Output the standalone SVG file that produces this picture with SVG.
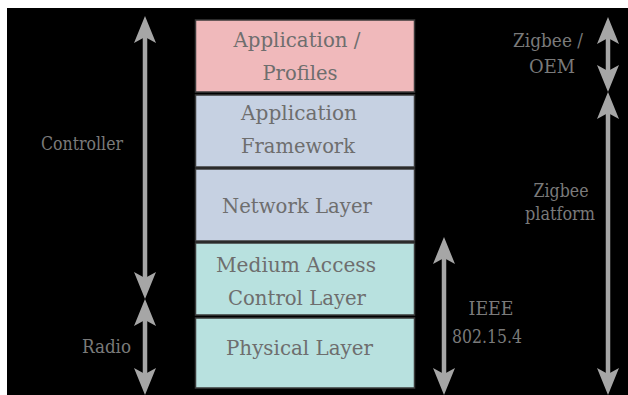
<svg xmlns="http://www.w3.org/2000/svg" width="628" height="395" viewBox="0 0 628 395">
<defs>
<style>
.box{stroke:#3a3a3a;stroke-width:1.5}
.pink{fill:#F0B9BB}
.blue{fill:#C6D1E2}
.teal{fill:#B8E1DF}
.lt{font-family:'DejaVu Serif','Liberation Serif',serif;font-size:21px;fill:#6e6e6e;text-anchor:middle}
.st{font-family:'DejaVu Serif','Liberation Serif',serif;font-size:18px;fill:#7a7a7a;text-anchor:middle}
.arr{stroke:#A6A6A6;stroke-width:4.5;fill:none;marker-start:url(#ah);marker-end:url(#ah)}
</style>
<marker id="ah" markerUnits="userSpaceOnUse" viewBox="-28 -12 30 24" refX="-21" refY="0" markerWidth="30" markerHeight="24" orient="auto-start-reverse">
<path d="M0,0 L-27,-11 L-21,0 L-27,11 Z" fill="#A6A6A6"/>
</marker>
</defs>
<rect width="628" height="395" fill="#ffffff"/>
<rect x="7" y="8" width="621" height="387" fill="#000000"/>
<g id="app-profiles"><rect class="box pink" x="195.5" y="20" width="219" height="72"/><text class="lt" x="297" y="47" textLength="127" lengthAdjust="spacingAndGlyphs">Application /</text><text class="lt" x="300" y="80" textLength="75" lengthAdjust="spacingAndGlyphs">Profiles</text></g>
<g id="app-framework"><rect class="box blue" x="195.5" y="95" width="219" height="72"/><text class="lt" x="299" y="120" textLength="116" lengthAdjust="spacingAndGlyphs">Application</text><text class="lt" x="298" y="153" textLength="114" lengthAdjust="spacingAndGlyphs">Framework</text></g>
<g id="network"><rect class="box blue" x="195.5" y="169" width="219" height="72"/><text class="lt" x="297" y="213" textLength="150" lengthAdjust="spacingAndGlyphs">Network Layer</text></g>
<g id="mac"><rect class="box teal" x="195.5" y="243" width="219" height="72"/><text class="lt" x="296" y="272" textLength="160" lengthAdjust="spacingAndGlyphs">Medium Access</text><text class="lt" x="297" y="305" textLength="138" lengthAdjust="spacingAndGlyphs">Control Layer</text></g>
<g id="phy"><rect class="box teal" x="195.5" y="318" width="219" height="70"/><text class="lt" x="299.5" y="355" textLength="147" lengthAdjust="spacingAndGlyphs">Physical Layer</text></g>
<g id="connectors">
<line class="arr" x1="145" y1="37" x2="145" y2="278"/>
<line class="arr" x1="145" y1="320" x2="145" y2="374"/>
<line class="arr" x1="444" y1="258" x2="444" y2="374"/>
<line class="arr" x1="608" y1="38" x2="608" y2="71"/>
<line class="arr" x1="608" y1="113" x2="608" y2="374"/>
</g>
<g id="labels">
<text class="st" x="82" y="150" textLength="82" lengthAdjust="spacingAndGlyphs">Controller</text>
<text class="st" x="106.5" y="353" textLength="49" lengthAdjust="spacingAndGlyphs">Radio</text>
<text class="st" x="491" y="315" textLength="45" lengthAdjust="spacingAndGlyphs">IEEE</text>
<text class="st" x="487" y="343" textLength="70" lengthAdjust="spacingAndGlyphs">802.15.4</text>
<text class="st" x="548" y="47" textLength="70" lengthAdjust="spacingAndGlyphs">Zigbee /</text>
<text class="st" x="552" y="73" textLength="46" lengthAdjust="spacingAndGlyphs">OEM</text>
<text class="st" x="561" y="197" textLength="55" lengthAdjust="spacingAndGlyphs">Zigbee</text>
<text class="st" x="560" y="220" textLength="70" lengthAdjust="spacingAndGlyphs">platform</text>
</g>
</svg>
